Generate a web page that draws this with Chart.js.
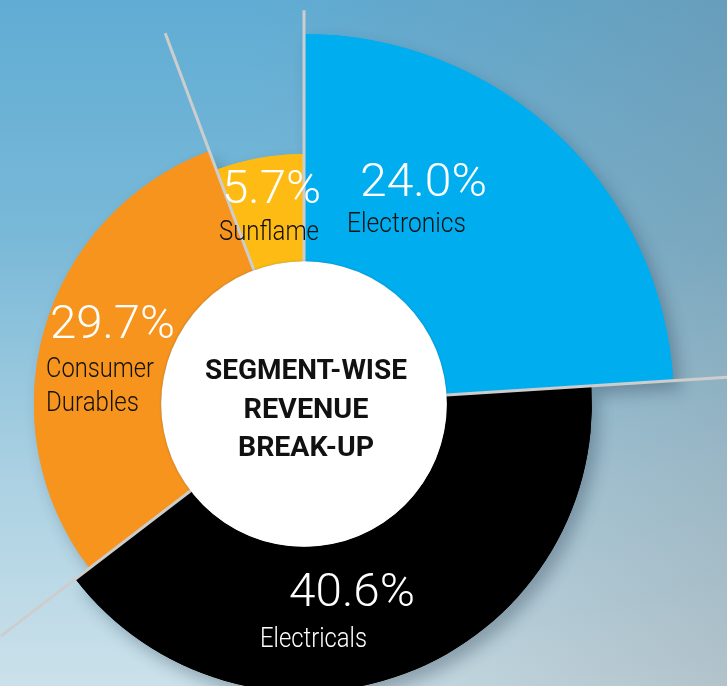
<!DOCTYPE html>
<html>
<head>
<meta charset="utf-8">
<script src="https://cdn.jsdelivr.net/npm/chart.js@4.4.1/dist/chart.umd.min.js"></script>
<style>
  html, body { margin: 0; padding: 0; width: 727px; height: 686px; overflow: hidden; }
  body {
    position: relative;
    background:
      linear-gradient(to right, rgba(120, 125, 130, 0) 35%, rgba(120, 125, 130, 0.3) 100%),
      linear-gradient(to bottom, #60acd4 0%, #7ab9d8 35%, #a9d0e2 68%, #cbe1ea 100%);
  }
  #wrap { position: absolute; left: -146px; top: -46px; width: 900px; height: 900px; }
</style>
</head>
<body>
<div id="wrap"><canvas id="segChart" width="900" height="900"></canvas></div>
<script>
// data
const segments = ['Electronics', 'Electricals', 'Consumer Durables', 'Sunflame'];
const revenueShare = [24.0, 40.6, 29.7, 5.7];
const centerTitle = ['SEGMENT-WISE', 'REVENUE', 'BREAK-UP'];

// styling
const sliceColors = ['#00aeef', '#000000', '#f7941d', '#fdbb13'];
const nameColors = ['#111111', '#ffffff', '#111111', '#111111'];
const sliceReach = [1, 0.778, 0.73, 0.676];   // outer radius, relative to the largest slice
const lineReach = [1.064, 1.2, 1.032, 1.07];   // separator length at each slice start

// label offsets from the chart centre (px): percent x/y/width, name x/y/widths
const labelPos = [
  { px: 56, py: -208, pw: 127, nx: 43, ny: -172, nw: [119] },
  { px: -15, py: 202, pw: 126, nx: -44, ny: 243, nw: [107] },
  { px: -254, py: -66, pw: 125, nx: -258, ny: -27, nw: [108, 93] },
  { px: -82, py: -201, pw: 99, nx: -85, ny: -164, nw: [100] }
];
const titleWidths = [202, 125, 136];

function fitText(ctx, str, x, y, w, font, color, align) {
  ctx.save();
  ctx.font = font;
  ctx.fillStyle = color;
  ctx.textAlign = align || 'left';
  ctx.textBaseline = 'alphabetic';
  const m = ctx.measureText(str).width;
  ctx.translate(x, y);
  ctx.scale(w / m, 1);
  ctx.fillText(str, 0, 0);
  ctx.restore();
}

const radialPlugin = {
  id: 'radial',
  beforeDatasetsDraw(chart) {
    const meta = chart.getDatasetMeta(0);
    const R = meta.controller.outerRadius;
    meta.data.forEach((a, i) => { a.outerRadius = R * sliceReach[i]; });
    // soft drop shadow behind the ring
    const ctx = chart.ctx;
    ctx.save();
    ctx.shadowColor = 'rgba(20, 40, 60, 0.3)';
    ctx.shadowBlur = 16;
    ctx.shadowOffsetX = 7;
    ctx.shadowOffsetY = 9;
    meta.data.forEach(a => a.draw(ctx));
    ctx.restore();
  },
  afterDatasetsDraw(chart) {
    const ctx = chart.ctx;
    const meta = chart.getDatasetMeta(0);
    const arcs = meta.data;
    const R = meta.controller.outerRadius;
    const cx = arcs[0].x, cy = arcs[0].y, r0 = arcs[0].innerRadius;

    // separator lines
    ctx.save();
    ctx.strokeStyle = '#cdcdcd';
    ctx.lineWidth = 3;
    arcs.forEach((a, i) => {
      const len = R * lineReach[i];
      ctx.beginPath();
      ctx.moveTo(cx, cy);
      ctx.lineTo(cx + Math.cos(a.startAngle) * len, cy + Math.sin(a.startAngle) * len);
      ctx.stroke();
    });

    // white hub
    ctx.beginPath();
    ctx.arc(cx, cy, r0, 0, Math.PI * 2);
    ctx.fillStyle = '#ffffff';
    ctx.shadowColor = 'rgba(0, 0, 0, 0.18)';
    ctx.shadowBlur = 3;
    ctx.fill();
    ctx.restore();

    // centre title
    const titleY = [-25, 14, 52];
    centerTitle.forEach((t, i) => {
      fitText(ctx, t, cx + 2, cy + titleY[i], titleWidths[i], '700 27px Roboto', '#111111', 'center');
    });

    // slice labels
    revenueShare.forEach((v, i) => {
      const p = labelPos[i];
      fitText(ctx, v.toFixed(1) + '%', cx + p.px, cy + p.py, p.pw, '300 47px Roboto', '#ffffff');
      segments[i].split(' ').forEach((word, j) => {
        fitText(ctx, word, cx + p.nx, cy + p.ny + j * 34, p.nw[j], '300 27px Roboto', nameColors[i]);
      });
    });
  }
};

Promise.all([
  document.fonts.load('300 47px Roboto'),
  document.fonts.load('700 27px Roboto')
]).catch(() => {}).then(() => {
  new Chart(document.getElementById('segChart'), {
    type: 'doughnut',
    data: {
      labels: segments,
      datasets: [{
        data: revenueShare,
        backgroundColor: sliceColors,
        borderWidth: 0
      }]
    },
    options: {
      responsive: false,
      animation: false,
      cutout: '38.6%',
      layout: { padding: 80 },
      plugins: {
        legend: { display: false },
        tooltip: { enabled: false }
      }
    },
    plugins: [radialPlugin]
  });
});
</script>
</body>
</html>
